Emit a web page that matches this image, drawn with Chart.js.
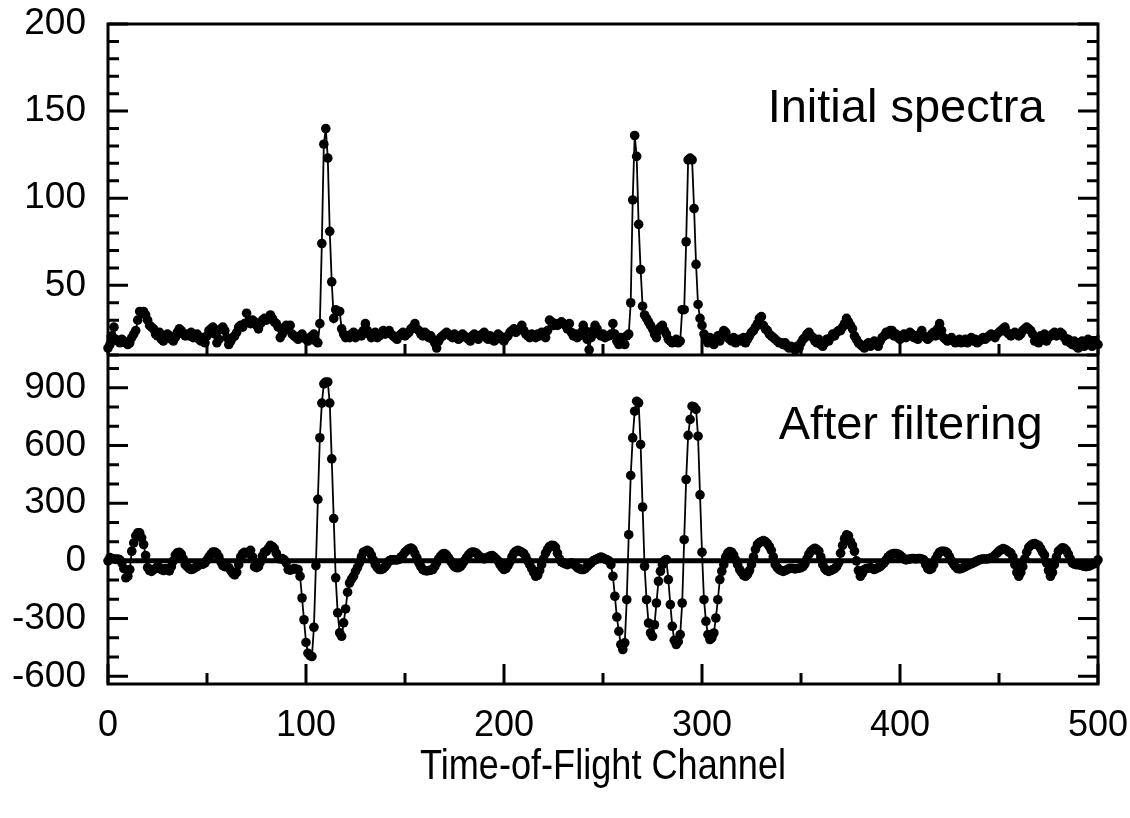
<!DOCTYPE html>
<html>
<head>
<meta charset="utf-8">
<title>Time-of-Flight spectra</title>
<script src="https://cdn.jsdelivr.net/npm/chart.js@4.4.1/dist/chart.umd.min.js"></script>
<style>
  html, body { margin: 0; padding: 0; background: #fff; }
  #tof { display: block; }
</style>
</head>
<body>
<canvas id="tof" width="1130" height="818"></canvas>
<script>
// counts per channel (index = channel number 0..500)
const initialCounts = [
  14, 16, 21, 26, 19, 18, 17, 19, 18, 17, 16, 17, 20, 22, 24, 30, 35, 34, 35, 33,
  30, 27, 26, 25, 22, 21, 23, 19, 18, 20, 22, 21, 19, 18, 20, 23, 25, 24, 22, 21,
  22, 21, 23, 20, 21, 22, 19, 18, 20, 17, 21, 24, 25, 26, 22, 17, 19, 25, 26, 24,
  20, 16, 18, 20, 21, 23, 26, 27, 26, 28, 34, 29, 28, 30, 29, 27, 25, 28, 30, 31,
  30, 31, 33, 31, 29, 28, 26, 20, 22, 24, 27, 25, 27, 22, 21, 20, 19, 21, 22, 20,
  19, 18, 20, 21, 22, 18, 17, 28, 74, 131, 140, 123, 81, 52, 31, 36, 35, 35, 25, 22,
  20, 21, 20, 22, 23, 20, 21, 22, 21, 24, 28, 24, 22, 20, 21, 23, 20, 21, 22, 24,
  22, 23, 24, 22, 21, 20, 19, 21, 22, 23, 21, 22, 23, 25, 26, 28, 25, 24, 22, 21,
  23, 22, 20, 21, 19, 17, 14, 18, 20, 21, 22, 23, 22, 21, 20, 22, 21, 19, 20, 22,
  21, 20, 19, 18, 21, 22, 20, 19, 21, 22, 23, 20, 19, 21, 20, 18, 19, 22, 21, 19,
  18, 20, 21, 23, 24, 25, 23, 24, 25, 27, 24, 22, 21, 20, 22, 21, 20, 22, 21, 23,
  22, 20, 24, 30, 29, 27, 28, 27, 28, 29, 28, 27, 25, 28, 23, 21, 22, 20, 21, 23,
  27, 24, 19, 13, 20, 24, 27, 25, 22, 21, 22, 20, 21, 21, 22, 28, 22, 18, 16, 20,
  17, 16, 21, 22, 40, 99, 136, 124, 85, 59, 38, 33, 31, 29, 27, 25, 22, 20, 24, 26,
  27, 24, 22, 19, 18, 17, 18, 19, 17, 18, 36, 36, 75, 122, 123, 122, 94, 62, 39, 31,
  27, 22, 19, 17, 20, 18, 16, 19, 21, 18, 22, 24, 23, 20, 19, 18, 20, 17, 18, 19,
  18, 20, 17, 19, 21, 23, 24, 26, 28, 31, 32, 27, 25, 24, 22, 21, 20, 19, 18, 17,
  17, 16, 17, 15, 14, 15, 14, 13, 15, 14, 17, 19, 20, 22, 23, 21, 20, 18, 17, 19,
  16, 15, 17, 19, 18, 20, 22, 21, 23, 24, 24, 26, 28, 31, 29, 27, 25, 21, 19, 17,
  16, 15, 14, 16, 17, 15, 16, 18, 17, 15, 18, 20, 21, 23, 22, 24, 24, 21, 22, 20,
  19, 21, 22, 20, 21, 23, 22, 20, 21, 19, 22, 24, 21, 20, 19, 20, 22, 23, 21, 25,
  28, 24, 20, 19, 18, 19, 20, 18, 17, 18, 19, 17, 18, 19, 17, 18, 20, 18, 19, 17,
  18, 19, 20, 19, 20, 21, 22, 21, 20, 22, 23, 24, 25, 26, 23, 22, 21, 22, 23, 22,
  21, 22, 24, 25, 26, 25, 24, 22, 18, 20, 17, 21, 19, 22, 18, 20, 21, 22, 23, 21,
  22, 23, 22, 20, 18, 19, 17, 16, 18, 15, 14, 17, 18, 15, 16, 19, 18, 15, 16, 17,
  16
];

const filteredCounts = [
  0, 17, 12, 10, 8, 10, 5, -10, -40, -88, -80, -45, 50, 93, 130, 146, 146, 120, 85, 28,
  -35, -50, -55, -45, -40, -30, -35, -45, -50, -40, -45, -52, -30, 0, 30, 42, 45, 35, 10, -20,
  -30, -40, -45, -42, -35, -30, -20, -15, -17, -10, 5, 20, 35, 46, 46, 38, 20, -5, -25, -30,
  -30, -35, -50, -65, -73, -60, -20, 20, 38, 45, 40, 45, 55, 20, -30, -35, -30, -5, 25, 46,
  50, 65, 81, 75, 64, 40, 12, 10, 12, 5, -10, -45, -48, -45, -40, -42, -45, -80, -193, -306,
  -424, -480, -492, -497, -345, -25, 320, 640, 820, 920, 930, 930, 820, 530, 220, -88, -270, -374, -392, -322,
  -250, -163, -115, -95, -80, -55, -35, -10, 20, 45, 50, 55, 48, 30, 5, -20, -35, -45, -45, -40,
  -30, -15, 0, 5, 5, 5, 5, 8, 20, 30, 45, 55, 62, 67, 60, 38, 15, -10, -30, -45,
  -50, -52, -50, -48, -45, -30, -10, 10, 25, 35, 38, 30, 15, 0, -15, -30, -35, -35, -30, -15,
  0, 15, 30, 40, 46, 45, 40, 30, 20, 15, 10, 15, 20, 25, 28, 20, 10, 0, -20, -35,
  -45, -40, -25, -5, 20, 40, 50, 55, 50, 45, 38, 20, 0, -20, -40, -60, -80, -75, -50, -20,
  10, 40, 60, 75, 81, 80, 70, 40, 10, -5, -10, -15, -20, -15, -10, -15, -25, -35, -40, -45,
  -45, -40, -30, -20, -10, 0, 5, 10, 15, 20, 15, 10, 5, 0, -20, -80, -184, -292, -366, -435,
  -461, -426, -202, 136, 444, 639, 778, 830, 821, 605, 280, -28, -202, -323, -375, -392, -332, -219, -106, -54,
  -20, 0, 7, -97, -227, -340, -413, -435, -420, -383, -219, 110, 423, 652, 735, 804, 800, 787, 648, 343,
  45, -202, -314, -383, -409, -400, -375, -297, -202, -97, -54, -20, 20, 40, 48, 45, 30, 5, -20, -45,
  -60, -75, -80, -70, -50, -20, 20, 60, 85, 95, 100, 105, 100, 90, 75, 55, 20, -20, -35, -45,
  -50, -55, -50, -45, -40, -38, -40, -42, -40, -38, -35, -30, -15, 10, 35, 50, 60, 65, 60, 50,
  20, -20, -40, -50, -55, -50, -45, -40, -30, -10, 40, 80, 115, 135, 130, 100, 80, 50, 0, -50,
  -80, -65, -45, -40, -38, -35, -40, -45, -40, -35, -30, -20, -10, 5, 20, 30, 35, 38, 38, 35,
  30, 20, 10, 5, 8, 10, 12, 12, 10, 12, 12, 10, 5, -20, -40, -45, -40, -20, 10, 30,
  45, 50, 50, 48, 40, 20, 0, -15, -30, -40, -42, -40, -35, -30, -25, -20, -15, -10, -5, 0,
  5, 8, 10, 10, 10, 12, 15, 20, 30, 40, 50, 58, 64, 60, 55, 46, 40, 20, -20, -60,
  -80, -60, -30, 10, 45, 70, 80, 88, 90, 85, 80, 65, 45, 30, -10, -50, -80, -60, -20, 20,
  50, 60, 68, 65, 55, 35, 10, -10, -17, -20, -20, -22, -25, -28, -30, -28, -25, -20, -15, -10,
  5
];

// thick zero reference line in the lower panel
const zeroLineX = [0, 500];
const zeroLineY = [0, 0];

const xTickValues = [0, 100, 200, 300, 400, 500];
const topTickValues = [50, 100, 150, 200];
const bottomTickValues = [-600, -300, 0, 300, 600, 900];

const xTitle = 'Time-of-Flight Channel';
const FONT = '"Liberation Sans", Arial, Helvetica, sans-serif';

// frame, inward ticks on all sides, panel divider
const framePlugin = {
  id: 'frame',
  beforeDatasetsDraw(chart) {
    const { ctx, chartArea: a, scales } = chart;
    const x = scales.x, yTop = scales.yTop, yBot = scales.yBot;
    const divider = yTop.bottom;
    ctx.save();
    ctx.strokeStyle = '#000';
    ctx.lineWidth = 3;
    ctx.lineCap = 'butt';

    ctx.strokeRect(a.left, a.top, a.right - a.left, a.bottom - a.top);
    ctx.beginPath();
    ctx.moveTo(a.left, divider);
    ctx.lineTo(a.right, divider);
    ctx.stroke();

    const yTicks = (scale, from, to, step, majorEvery) => {
      for (let v = from; v <= to; v += step) {
        const py = scale.getPixelForValue(v);
        if (py < scale.top - 1 || py > scale.bottom + 1) continue;
        const len = (v % majorEvery === 0) ? 20 : 11;
        ctx.beginPath();
        ctx.moveTo(a.left, py); ctx.lineTo(a.left + len, py);
        ctx.moveTo(a.right, py); ctx.lineTo(a.right - len, py);
        ctx.stroke();
      }
    };
    yTicks(yTop, 10, 200, 10, 50);
    yTicks(yBot, -600, 1000, 100, 300);

    // x ticks point up from the bottom edge of each panel
    for (let v = 0; v <= 500; v += 50) {
      const px = x.getPixelForValue(v);
      const len = (v % 100 === 0) ? 20 : 11;
      ctx.beginPath();
      ctx.moveTo(px, divider); ctx.lineTo(px, divider - len);
      ctx.moveTo(px, a.bottom); ctx.lineTo(px, a.bottom - len);
      ctx.stroke();
    }
    ctx.restore();
  },
  afterDraw(chart) {
    const { ctx, chartArea: a, scales } = chart;
    ctx.save();
    ctx.fillStyle = '#000';
    ctx.font = '47px ' + FONT;
    ctx.textAlign = 'right';
    ctx.textBaseline = 'middle';
    ctx.fillText('Initial spectra', scales.x.getPixelForValue(473), scales.yTop.getPixelForValue(151));
    ctx.fillText('After filtering', scales.x.getPixelForValue(472), scales.yBot.getPixelForValue(700));

    // axis title: tall, slightly narrow lettering as in the source figure
    ctx.font = '43px ' + FONT;
    ctx.textAlign = 'center';
    ctx.textBaseline = 'alphabetic';
    ctx.translate((a.left + a.right) / 2, 779);
    ctx.scale(0.84, 1);
    ctx.fillText(xTitle, 0, 0);
    ctx.restore();
  }
};

const lineStyle = {
  borderColor: '#000',
  borderWidth: 1.8,
  pointRadius: 4.8,
  pointBorderWidth: 0,
  pointBackgroundColor: '#000',
  pointHoverRadius: 4.8,
  clip: false,
  tension: 0
};

// keep the plot frame where the reference has it
const noEdgePad = (s) => { s.paddingLeft = 0; s.paddingRight = 0; s.paddingTop = 0; s.paddingBottom = 0; };

new Chart(document.getElementById('tof'), {
  type: 'line',
  data: {
    datasets: [
      Object.assign({
        label: 'Initial spectra',
        yAxisID: 'yTop',
        data: initialCounts.map((v, ch) => ({ x: ch, y: v }))
      }, lineStyle),
      Object.assign({
        label: 'After filtering',
        yAxisID: 'yBot',
        data: filteredCounts.map((v, ch) => ({ x: ch, y: v }))
      }, lineStyle),
      {
        label: 'zero',
        yAxisID: 'yBot',
        data: zeroLineX.map((v, i) => ({ x: v, y: zeroLineY[i] })),
        borderColor: '#000',
        borderWidth: 5,
        pointRadius: 0,
        clip: false
      }
    ]
  },
  options: {
    responsive: false,
    animation: false,
    events: [],
    layout: { padding: { top: 24, right: 32, left: 0, bottom: 0 } },
    plugins: { legend: { display: false }, tooltip: { enabled: false } },
    scales: {
      x: {
        type: 'linear',
        min: 0,
        max: 500,
        grid: { display: false, drawTicks: false },
        border: { display: false },
        afterBuildTicks: (s) => { s.ticks = xTickValues.map(v => ({ value: v })); },
        afterFit: (s) => { s.height = 134; noEdgePad(s); },
        ticks: { color: '#000', font: { family: FONT, size: 36 }, padding: 20, maxRotation: 0, autoSkip: false },
        title: { display: false }
      },
      yTop: {
        type: 'linear',
        position: 'left',
        stack: 'panels',
        stackWeight: 331,
        weight: 2,
        min: 10,
        max: 200,
        grid: { display: false, drawTicks: false },
        border: { display: false },
        afterBuildTicks: (s) => { s.ticks = topTickValues.map(v => ({ value: v })); },
        afterFit: (s) => { s.width = 108; noEdgePad(s); },
        ticks: { color: '#000', font: { family: FONT, size: 37 }, padding: 22, autoSkip: false }
      },
      yBot: {
        type: 'linear',
        position: 'left',
        stack: 'panels',
        stackWeight: 329,
        weight: 1,
        min: -640,
        max: 1070,
        grid: { display: false, drawTicks: false },
        border: { display: false },
        afterBuildTicks: (s) => { s.ticks = bottomTickValues.map(v => ({ value: v })); },
        afterFit: (s) => { s.width = 108; noEdgePad(s); },
        ticks: { color: '#000', font: { family: FONT, size: 37 }, padding: 22, autoSkip: false }
      }
    }
  },
  plugins: [framePlugin]
});
</script>
</body>
</html>
